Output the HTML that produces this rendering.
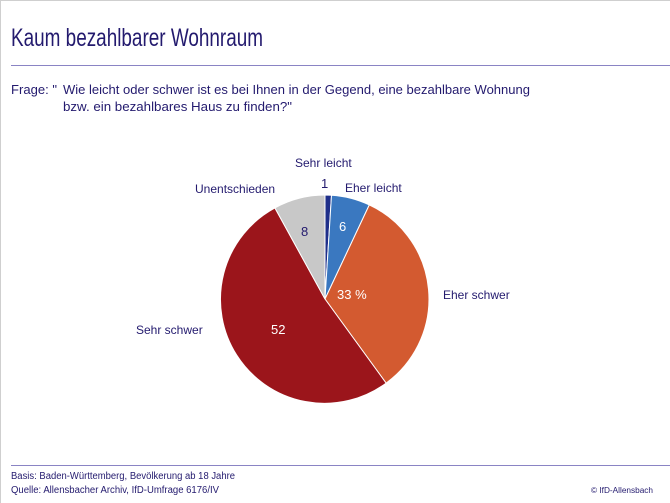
<!DOCTYPE html>
<html><head><meta charset="utf-8"><style>
body{margin:0;background:#fff}
svg{display:block}
text{font-family:"Liberation Sans",sans-serif;fill:#231a6e}
</style></head><body>
<svg width="670" height="503" viewBox="0 0 670 503" xmlns="http://www.w3.org/2000/svg">
<rect x="0.5" y="0.5" width="680" height="510" fill="#fff" stroke="#cfcfcf"/>
<text x="11" y="46" font-size="25" textLength="252" lengthAdjust="spacingAndGlyphs">Kaum bezahlbarer Wohnraum</text>
<line x1="11" y1="65.5" x2="670" y2="65.5" stroke="#8a84c4" stroke-width="1"/>
<text x="11" y="94" font-size="13" textLength="46" lengthAdjust="spacingAndGlyphs">Frage: "</text>
<text x="63" y="94" font-size="13" textLength="467" lengthAdjust="spacingAndGlyphs">Wie leicht oder schwer ist es bei Ihnen in der Gegend, eine bezahlbare Wohnung</text>
<text x="63" y="111" font-size="13" textLength="229" lengthAdjust="spacingAndGlyphs">bzw. ein bezahlbares Haus zu finden?"</text>
<g stroke="#fff" stroke-width="1">
<path d="M325 299 L325 195 A104 104 0 0 1 331.5 195.2Z" fill="#1f2f8a"/>
<path d="M325 299 L331.5 195.2 A104 104 0 0 1 369.3 204.9Z" fill="#3a78c0"/>
<path d="M325 299 L369.3 204.9 A104 104 0 0 1 386.1 383.1Z" fill="#d35a30"/>
<path d="M325 299 L386.1 383.1 A104 104 0 1 1 274.9 207.9Z" fill="#9b151b"/>
<path d="M325 299 L274.9 207.9 A104 104 0 0 1 325 195Z" fill="#c8c8c8"/>
</g>
<text x="295" y="167" font-size="12">Sehr leicht</text>
<text x="321" y="188" font-size="13">1</text>
<text x="345" y="192" font-size="12">Eher leicht</text>
<text x="339" y="231" font-size="13" style="fill:#fff">6</text>
<text x="195" y="193" font-size="12">Unentschieden</text>
<text x="301" y="236" font-size="13">8</text>
<text x="337" y="299" font-size="13" style="fill:#fff">33 %</text>
<text x="443" y="299" font-size="12">Eher schwer</text>
<text x="136" y="334" font-size="12">Sehr schwer</text>
<text x="271" y="334" font-size="13" style="fill:#fff">52</text>
<line x1="11" y1="465.5" x2="670" y2="465.5" stroke="#8a84c4" stroke-width="1"/>
<text x="11" y="479" font-size="10" textLength="224" lengthAdjust="spacingAndGlyphs">Basis: Baden-Württemberg, Bevölkerung ab 18 Jahre</text>
<text x="11" y="493" font-size="10" textLength="208" lengthAdjust="spacingAndGlyphs">Quelle: Allensbacher Archiv, IfD-Umfrage 6176/IV</text>
<text x="591" y="493" font-size="8" textLength="62" lengthAdjust="spacingAndGlyphs">© IfD-Allensbach</text>
</svg>
</body></html>
